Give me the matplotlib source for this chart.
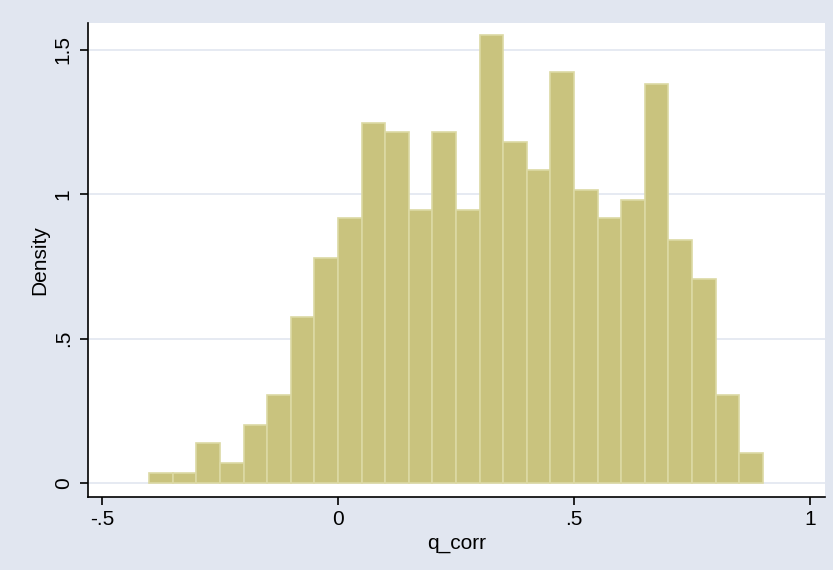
import matplotlib
matplotlib.use("Agg")
import matplotlib.pyplot as plt
import numpy as np

bin_edges = [-0.40, -0.35, -0.30, -0.25, -0.20, -0.15, -0.10, -0.05, 0.00, 0.05,
             0.10, 0.15, 0.20, 0.25, 0.30, 0.35, 0.40, 0.45, 0.50, 0.55,
             0.60, 0.65, 0.70, 0.75, 0.80, 0.85, 0.90]
density = [0.035, 0.035, 0.138, 0.069, 0.200, 0.304, 0.574, 0.778, 0.917, 1.246,
           1.215, 0.945, 1.215, 0.945, 1.550, 1.180, 1.083, 1.422, 1.014, 0.917,
           0.979, 1.381, 0.841, 0.706, 0.304, 0.104]
xticks = [-0.5, 0, 0.5, 1]
xticklabels = ["-.5", "0", ".5", "1"]
yticks = [0, 0.5, 1, 1.5]
yticklabels = ["0", ".5", "1", "1.5"]

plt.rcParams['font.family'] = ['Liberation Sans', 'DejaVu Sans']
bg = "#E1E6F0"
fig = plt.figure(figsize=(8.33, 5.70), dpi=100, facecolor=bg)
ax = fig.add_axes([0.1056, 0.128, 0.8848, 0.8316])
ax.set_facecolor("white")

lefts = np.array(bin_edges[:-1])
widths = np.diff(bin_edges)
ax.bar(lefts, density, width=widths, align="edge", color="#C9C37E",
       edgecolor="#DCD9A4", linewidth=1.2, zorder=2)

for y in yticks:
    ax.axhline(y, color="#E1E6F0", linewidth=1.2, zorder=1)

ax.set_xlim(-0.5297, 1.032)
ax.set_ylim(-0.0485, 1.593)
ax.set_xticks(xticks)
ax.set_xticklabels(xticklabels)
ax.set_yticks(yticks)
ax.set_yticklabels(yticklabels, rotation=90, va="center")
ax.tick_params(axis="both", direction="out", length=6, width=1.2, labelsize=15, color="black")
ax.tick_params(axis="x", pad=3)
ax.tick_params(axis="y", pad=5)
for s in ["top", "right"]:
    ax.spines[s].set_visible(False)
for s in ["left", "bottom"]:
    ax.spines[s].set_linewidth(1.2)
ax.set_xlabel("q_corr", fontsize=15, labelpad=4)
ax.set_ylabel("Density", fontsize=15, labelpad=3)

fig.savefig("out.png", dpi=100, facecolor=bg)
